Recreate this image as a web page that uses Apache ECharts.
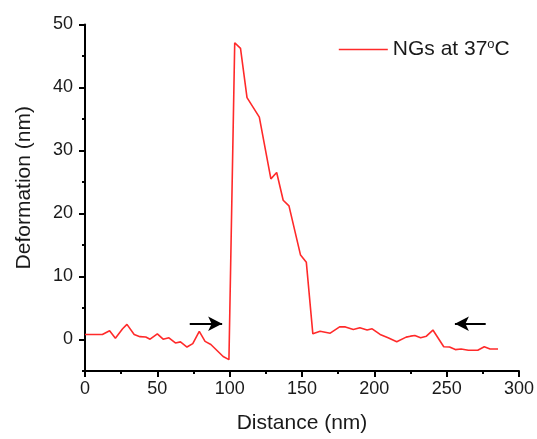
<!DOCTYPE html>
<html>
<head>
<meta charset="utf-8">
<script src="https://cdn.jsdelivr.net/npm/echarts@6/dist/echarts.min.js"></script>
<style>html,body{margin:0;padding:0;background:#fff}#c{width:537px;height:439px}</style>
</head>
<body>
<div id="c"></div>
<script>
var distance = [0, 5, 12, 17, 21, 26, 29, 34, 38, 42, 45, 50, 54, 58, 62.5, 66, 70.5, 74.5, 79, 83, 87, 95.5, 99.5, 103.5, 107.5, 112, 120.5, 128.5, 132.5, 137, 141, 149, 153, 157.5, 162.5, 169.5, 176, 180, 185.5, 190, 195, 198.5, 204, 209.5, 215.5, 222, 225, 228, 232, 236, 240.5, 248, 252, 256, 260, 265, 271.5, 276, 280, 285.5];
var deformation = [0.8, 0.8, 0.8, 1.4, 0.2, 1.7, 2.4, 0.8, 0.45, 0.4, 0.05, 0.9, 0.05, 0.27, -0.55, -0.38, -1.2, -0.65, 1.3, -0.3, -0.8, -2.7, -3.2, 47.1, 46.2, 38.4, 35.3, 25.5, 26.5, 22.1, 21.2, 13.4, 12.25, 0.9, 1.3, 1.0, 2.0, 2.0, 1.6, 1.85, 1.5, 1.7, 0.8, 0.27, -0.36, 0.38, 0.53, 0.63, 0.27, 0.53, 1.5, -1.15, -1.2, -1.6, -1.5, -1.7, -1.7, -1.15, -1.5, -1.5];
var seriesName = 'NGs at 37oC';
var xTicks = [0, 50, 100, 150, 200, 250, 300];
var yTicks = [0, 10, 20, 30, 40, 50];
var yMinor = [-5, 5, 15, 25, 35, 45];
var arrowRight = [[72.4, 2.5], [94.8, 2.5]];
var arrowLeft = [[277, 2.5], [255.7, 2.5]];

var FONT = '"Liberation Sans", Arial, sans-serif';
var TXT = '#1a1a1a';
var points = distance.map(function (d, i) { return [d, deformation[i]]; });

var chart = echarts.init(document.getElementById('c'), null, {renderer: 'canvas'});
chart.setOption({
  animation: false,
  backgroundColor: '#fff',
  textStyle: {fontFamily: FONT},
  grid: {left: 85, right: 17.7, top: 24.5, bottom: 65.5, containLabel: false},
  legend: {
    left: 333, top: 33,
    itemWidth: 49, itemHeight: 14, itemGap: 10,
    data: [{name: seriesName}],
    itemStyle: {opacity: 0},
    lineStyle: {color: '#ff2a2a', width: 1.6, opacity: 1},
    formatter: function () { return '{a|NGs at 37}{s|o}{a|C}'; },
    textStyle: {
      fontFamily: FONT, color: TXT, fontSize: 21,
      rich: {
        a: {fontFamily: FONT, color: TXT, fontSize: 21},
        s: {fontFamily: FONT, color: TXT, fontSize: 13, padding: [0, 0, 10, 0]}
      }
    }
  },
  xAxis: {
    type: 'value', min: 0, max: 300, interval: 50,
    name: 'Distance (nm)', nameLocation: 'middle', nameGap: 42,
    nameTextStyle: {fontFamily: FONT, color: TXT, fontSize: 21},
    axisLine: {onZero: false, lineStyle: {color: '#000', width: 2}},
    axisTick: {show: true, inside: false, length: 6, lineStyle: {color: '#000', width: 2}},
    minorTick: {show: true, splitNumber: 2, length: 3, lineStyle: {color: '#000', width: 2}},
    axisLabel: {fontFamily: FONT, color: TXT, fontSize: 18, margin: 9,
      customValues: xTicks},
    splitLine: {show: false}, minorSplitLine: {show: false}
  },
  yAxis: [{
    type: 'value', min: -5, max: 50, interval: 5,
    name: 'Deformation (nm)', nameLocation: 'middle', nameGap: 50,
    nameTextStyle: {fontFamily: FONT, color: TXT, fontSize: 21, padding: [0, 0, 0, 20]},
    axisLine: {onZero: false, lineStyle: {color: '#000', width: 2}},
    axisTick: {show: true, inside: false, length: 3, lineStyle: {color: '#000', width: 2},
      customValues: yMinor},
    axisLabel: {fontFamily: FONT, color: TXT, fontSize: 18, margin: 12,
      customValues: yTicks},
    splitLine: {show: false}
  }, {
    type: 'value', min: -5, max: 50, interval: 5, position: 'left', offset: 0,
    axisLine: {show: false, onZero: false},
    axisTick: {show: true, inside: false, length: 6, lineStyle: {color: '#000', width: 2},
      customValues: yTicks},
    axisLabel: {show: false},
    splitLine: {show: false}
  }],
  series: [{
    name: seriesName,
    type: 'line',
    data: points,
    showSymbol: false, symbol: 'none',
    lineStyle: {color: '#ff2a2a', width: 1.6},
    itemStyle: {color: '#ff2a2a'},
    markLine: {
      silent: true,
      symbol: ['none', 'arrow'],
      symbolSize: [11, 14],
      label: {show: false},
      lineStyle: {color: '#000', width: 2, type: 'solid'},
      data: [
        [{coord: arrowRight[0]}, {coord: arrowRight[1]}],
        [{coord: arrowLeft[0]}, {coord: arrowLeft[1]}]
      ]
    }
  }]
});
</script>
</body>
</html>
